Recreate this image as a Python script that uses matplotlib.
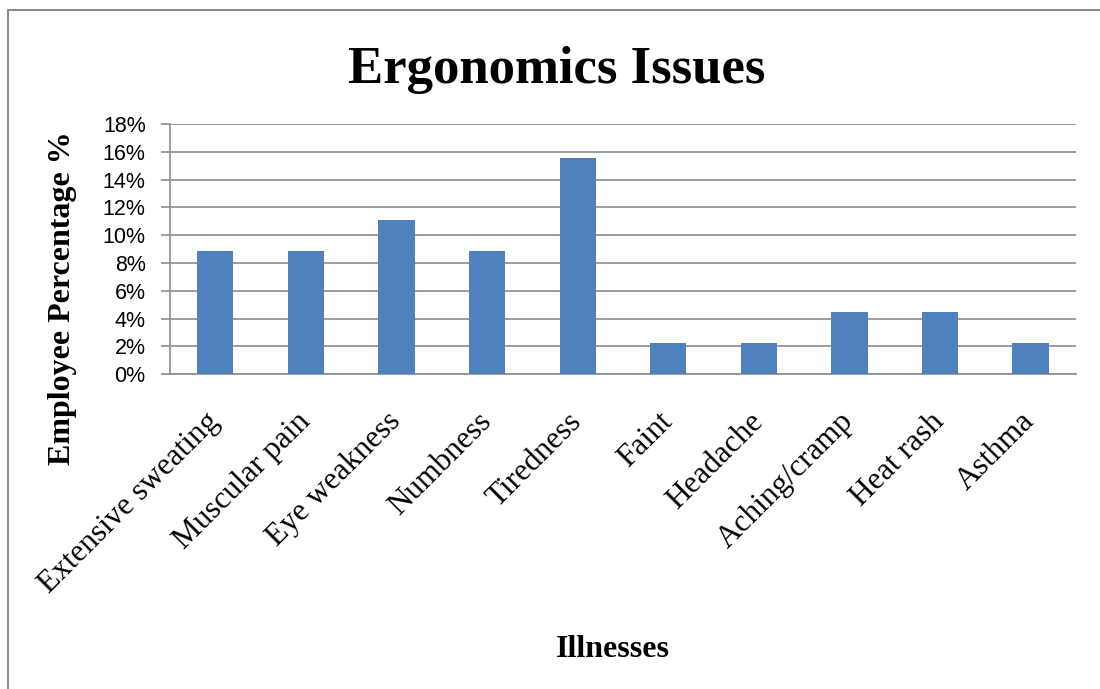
import matplotlib.pyplot as plt
from matplotlib.lines import Line2D
from matplotlib.ticker import FuncFormatter, MultipleLocator
import numpy as np

# Survey results: share of employees reporting each illness
illnesses = ['Extensive sweating', 'Muscular pain', 'Eye weakness', 'Numbness',
             'Tiredness', 'Faint', 'Headache', 'Aching/cramp', 'Heat rash', 'Asthma']
percentages = [8.89, 8.89, 11.11, 8.89, 15.56, 2.22, 2.22, 4.44, 4.44, 2.22]

bar_color = '#4F81BD'
grey = '#8C8C8C'

fig = plt.figure(figsize=(11, 6.89), dpi=100)
ax = fig.add_axes([0.1545, 0.457, 0.8236, 0.363])

x = np.arange(len(illnesses))
ax.bar(x, percentages, width=0.4, color=bar_color, zorder=3)

ax.set_xlim(-0.5, len(illnesses) - 0.5)
ax.set_ylim(0, 18)
ax.yaxis.set_major_locator(MultipleLocator(2))
ax.yaxis.set_major_formatter(FuncFormatter(lambda v, p: '%d%%' % v))
ax.grid(axis='y', color=grey, linewidth=1.2, zorder=0)

for side in ['top', 'right']:
    ax.spines[side].set_visible(False)
for side in ['left', 'bottom']:
    ax.spines[side].set_color(grey)
    ax.spines[side].set_linewidth(1.2)

ax.tick_params(axis='y', direction='out', length=6.5, width=1.2, color=grey, pad=11,
               labelsize=15.5)
for lab in ax.get_yticklabels():
    lab.set_fontfamily('Liberation Sans')

ax.set_xticks(x)
ax.set_xticklabels(illnesses, rotation=45, ha='right', va='center',
                   rotation_mode='anchor', fontsize=22.5, family='Liberation Serif')
ax.tick_params(axis='x', length=0, pad=31)

fig.text(0.506, 0.898, 'Ergonomics Issues', ha='center', va='center',
         fontsize=38, fontweight='bold', family='Liberation Serif')
fig.text(0.0565, 0.568, 'Employee Percentage %', ha='center', va='center', rotation=90,
         fontsize=23, fontweight='bold', family='Liberation Serif')
fig.text(0.557, 0.057, 'Illnesses', ha='center', va='center',
         fontsize=23, fontweight='bold', family='Liberation Serif')

# outer chart frame (left and top edges)
fig.add_artist(Line2D([0.0073, 0.0073, 1.0], [0.0, 0.9855, 0.9855],
                      transform=fig.transFigure, color=grey, linewidth=1.5))

fig.savefig('out.png', dpi=100, facecolor='white')
